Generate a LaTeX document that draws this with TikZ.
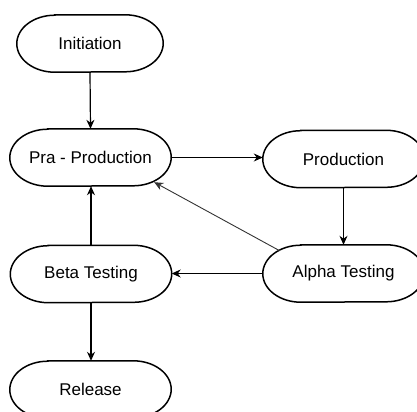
\documentclass[tikz,border=0pt]{standalone}
\usepackage{fontspec}
\setmainfont{Liberation Sans}
\usetikzlibrary{calc,arrows.meta}
\tikzset{
  box/.style={rectangle, draw=none, minimum width=161bp, minimum height=57bp, inner sep=0pt, font=\fontsize{17bp}{20bp}\selectfont},
  conn/.style={line width=1.2bp, -{Stealth[length=9bp,width=8bp]}},
  thinconn/.style={line width=0.9bp, draw=black!80, -{Stealth[length=9bp,width=8bp]}},
  outline/.style={line width=1.5bp}
}
\begin{document}
\begin{tikzpicture}[x=1bp,y=1bp]
\useasboundingbox (0,0) rectangle (417,-412);
\node[box, minimum width=146bp] (ini) at (90,-43.5) {Initiation};
\node[box] (pra) at (90.5,-157.5) {Pra - Production};
\node[box] (prod) at (343.5,-159) {Production};
\node[box] (alpha) at (343.5,-273.5) {Alpha Testing};
\node[box] (beta) at (91,-274) {Beta Testing};
\node[box] (rel) at (90.5,-389.5) {Release};
\foreach \n in {ini,pra,prod,alpha,beta,rel}{
  \draw[outline] ($(\n.north west)+(38,0)$) -- ($(\n.north east)+(-38,0)$)
    arc[start angle=90,end angle=-90,x radius=38,y radius=28.5]
    -- ($(\n.south west)+(38,0)$)
    arc[start angle=270,end angle=90,x radius=38,y radius=28.5] -- cycle;
}
\coordinate (astart) at ($(alpha.north west)+(17,-6)$);
\coordinate (pend) at ($(pra.south east)+(-17,4)$);
\draw[conn] (ini.south) -- (pra.north);
\draw[conn] (pra.east) -- (prod.west |- pra.east);
\draw[conn] (prod.south) -- (alpha.north -| prod.south);
\draw[conn] (alpha.west) -- (beta.east |- alpha.west);
\draw[conn] (beta.north) -- (pra.south -| beta.north);
\draw[conn] (beta.south) -- (rel.north -| beta.south);
\draw[thinconn] (astart) -- (pend);
\end{tikzpicture}
\end{document}
